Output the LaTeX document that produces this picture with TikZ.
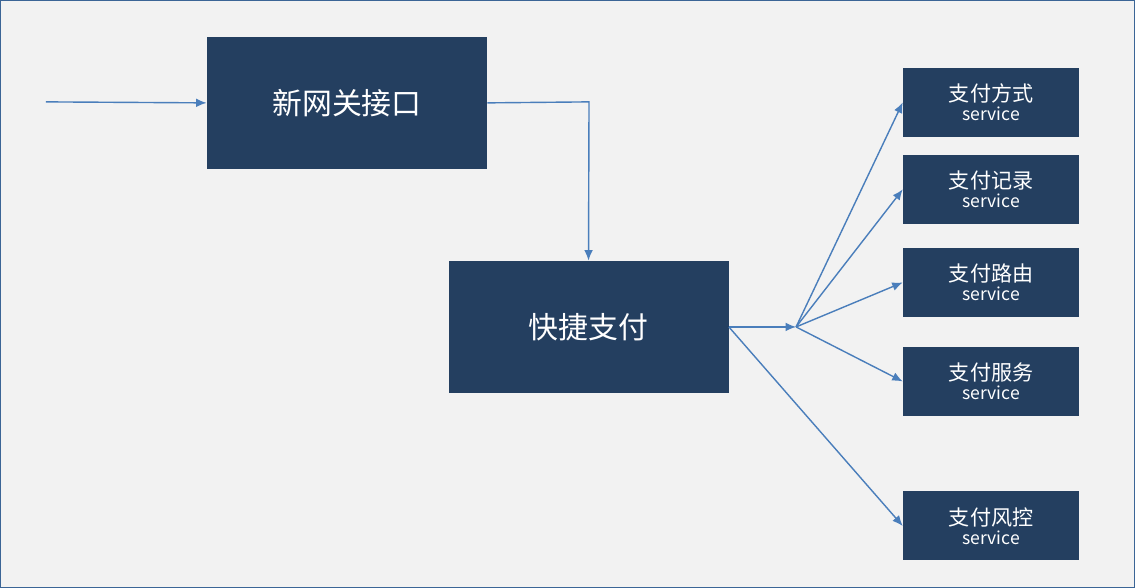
\documentclass[tikz,border=0pt]{standalone}
\usepackage{fontspec}
\setmainfont{Noto Sans CJK SC}
\usetikzlibrary{arrows.meta}
\definecolor{boxblue}{HTML}{243F60}
\definecolor{lineblue}{HTML}{4A7EBB}
\definecolor{bgray}{HTML}{F2F2F2}
\tikzset{bigbox/.style={rectangle, fill=boxblue, text=white,
  minimum width=5.6cm, minimum height=2.64cm, font=\fontsize{17}{20}\selectfont},
  svcbox/.style={rectangle, fill=boxblue, text=white, align=center,
  minimum width=3.52cm, minimum height=1.38cm, inner sep=0pt,
  font=\fontsize{12}{14}\selectfont},
  arrow/.style={lineblue, thick, -{Latex[length=6pt,width=5pt]}}}
\newcommand{\svc}[1]{#1\\[-3pt]{\fontsize{10}{12}\selectfont service}}
\begin{document}
\begin{tikzpicture}[x=0.02cm,y=-0.02cm]
\draw[fill=bgray, draw=lineblue!80!black] (0.5,0.5) rectangle (1134.5,587.5);
\node (gate) [bigbox] at (347,103) {新网关接口};
\node (quick) [bigbox] at (588.5,327) {快捷支付};
\node (way) [svcbox] at (991,102.5) {\svc{支付方式}};
\node (rec) [svcbox] at (991,189.5) {\svc{支付记录}};
\node (route) [svcbox] at (991,282.5) {\svc{支付路由}};
\node (serv) [svcbox] at (991,381.5) {\svc{支付服务}};
\node (risk) [svcbox] at (991,526) {\svc{支付风控}};
\coordinate (in) at (46,102);
\coordinate (hub) at (796,327);
\draw [arrow] (in) -- (gate.west);
\draw [arrow] (gate.east) -- (589,102) -- (quick.north);
\draw [arrow] (quick.east) -- (hub);
\draw [arrow] (hub) -- (way.west);
\draw [arrow] (hub) -- (rec.west);
\draw [arrow] (hub) -- (route.west);
\draw [arrow] (hub) -- (serv.west);
\draw [arrow] (quick.east) -- (risk.west);
\end{tikzpicture}
\end{document}
